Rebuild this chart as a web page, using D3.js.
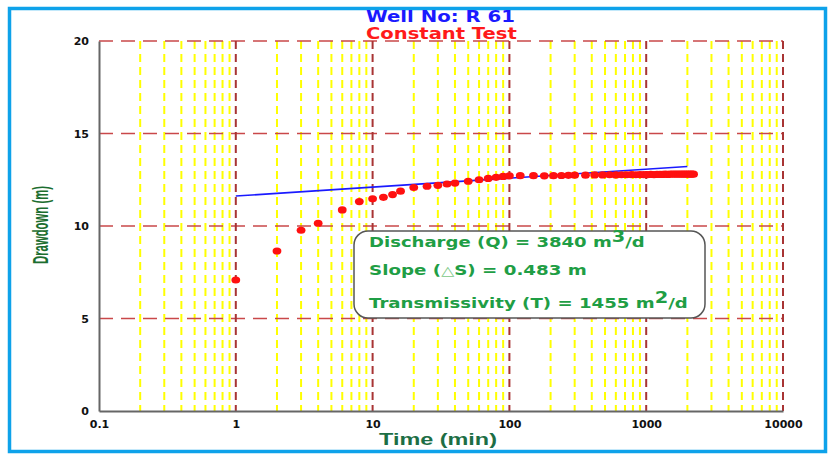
<!DOCTYPE html>
<html>
<head>
<meta charset="utf-8">
<script src="https://cdn.jsdelivr.net/npm/d3@7"></script>
<style>
  html, body { margin: 0; padding: 0; background: #fff; }
  svg { display: block; }
</style>
</head>
<body>
<svg id="chart" width="830" height="455"></svg>
<script>
// Constant-rate pumping test, well R 61: elapsed time (min) and drawdown (m)
const timeMin = [
  1, 2, 3, 4, 6, 8, 10, 12, 14, 16, 20, 25, 30, 35, 40, 50, 60, 70, 80, 90,
  100, 120, 150, 180, 210, 240, 270, 300, 360, 420, 480, 540, 600, 660, 720,
  780, 840, 900, 960, 1020, 1080, 1140, 1200, 1260, 1320, 1380, 1440, 1500,
  1560, 1620, 1680, 1740, 1800, 1860, 1920, 1980, 2040, 2100, 2160, 2220
];
const drawdownM = [
  7.08, 8.65, 9.77, 10.15, 10.87, 11.32, 11.47, 11.55, 11.70, 11.88, 12.08,
  12.15, 12.20, 12.27, 12.32, 12.42, 12.50, 12.57, 12.63, 12.68,
  12.71, 12.72, 12.72, 12.71, 12.72, 12.73, 12.74, 12.75, 12.75, 12.76, 12.76,
  12.77, 12.76, 12.77, 12.77, 12.78, 12.77, 12.78, 12.78, 12.78, 12.79, 12.78,
  12.79, 12.79, 12.79, 12.80, 12.79, 12.80, 12.80, 12.80, 12.80, 12.80, 12.80,
  12.80, 12.80, 12.80, 12.80, 12.80, 12.80, 12.80
];

// Straight-line (Cooper-Jacob) fit
const fitTimes = [1, 2000];
const fitInterceptM = 11.62;   // drawdown on the fitted line at t = 1 min
const fitSlopeM = 0.483;       // drawdown per log cycle

const xTickValues = [0.1, 1, 10, 100, 1000, 10000];
const xTickLabels = ["0.1", "1", "10", "100", "1000", "10000"];
const yTickValues = [0, 5, 10, 15, 20];
const yTickLabels = ["0", "5", "10", "15", "20"];

const titleText = "Well No: R 61";
const subtitleText = "Constant Test";
const xAxisTitle = "Time (min)";
const yAxisTitle = "Drawdown (m)";

// Result box lines; "sup" parts are raised, "sym" parts are the light triangle
const infoLines = [
  [{ t: "Discharge (Q) = 3840 m" }, { t: "3", sup: true }, { t: "/d" }],
  [{ t: "Slope (" }, { t: "\u25B3", sym: true }, { t: "S) = 0.483 m" }],
  [{ t: "Transmissivity (T) = 1455 m" }, { t: "2", sup: true }, { t: "/d" }]
];

const svg = d3.select("#chart");
const plot = { left: 99, right: 783, top: 41, bottom: 411 };

const x = d3.scaleLog().domain([0.1, 10000]).range([plot.left, plot.right]);
const y = d3.scaleLinear().domain([0, 20]).range([plot.bottom, plot.top]);

// outer frame
svg.append("rect")
  .attr("x", 9.5).attr("y", 8.5)
  .attr("width", 816).attr("height", 443)
  .attr("fill", "none")
  .attr("stroke", "#0ea2ea")
  .attr("stroke-width", 3.5);

// grid
const grid = svg.append("g");
const minorTicks = x.ticks().filter(v => !xTickValues.includes(v) && v > 0.1 && v < 10000);
grid.selectAll("line.minor").data(minorTicks).join("line")
  .attr("class", "minor")
  .attr("x1", d => x(d)).attr("x2", d => x(d))
  .attr("y1", plot.top).attr("y2", plot.bottom)
  .attr("stroke", "#ffff00").attr("stroke-width", 2)
  .attr("stroke-dasharray", "8,5");

grid.selectAll("line.hmajor").data(yTickValues.filter(v => v > 0)).join("line")
  .attr("class", "hmajor")
  .attr("x1", plot.left).attr("x2", plot.right)
  .attr("y1", d => y(d)).attr("y2", d => y(d))
  .attr("stroke", "#c9484a").attr("stroke-width", 1.6)
  .attr("stroke-dasharray", "14,8");

grid.selectAll("line.vmajor").data(xTickValues.filter(v => v > 0.1)).join("line")
  .attr("class", "vmajor")
  .attr("x1", d => x(d)).attr("x2", d => x(d))
  .attr("y1", plot.top).attr("y2", plot.bottom)
  .attr("stroke", "#a83434").attr("stroke-width", 2)
  .attr("stroke-dasharray", "8,5");

// axes
const xAxis = d3.axisBottom(x)
  .tickValues(xTickValues)
  .tickFormat((d, i) => xTickLabels[i])
  .tickSize(0).tickPadding(9);
const yAxis = d3.axisLeft(y)
  .tickValues(yTickValues)
  .tickFormat((d, i) => yTickLabels[i])
  .tickSize(0).tickPadding(10);

function styleAxis(g) {
  g.select(".domain").attr("stroke", "#666").attr("stroke-width", 2);
  g.selectAll("text")
    .attr("font-family", "DejaVu Sans, Verdana, sans-serif")
    .attr("font-weight", "bold")
    .attr("font-size", 11)
    .attr("fill", "#111");
}
svg.append("g").attr("transform", `translate(0,${plot.bottom})`).call(xAxis).call(styleAxis);
svg.append("g").attr("transform", `translate(${plot.left},0)`).call(yAxis).call(styleAxis);

// fitted straight line
const fitLine = d3.line().x(d => x(d)).y(d => y(fitInterceptM + fitSlopeM * Math.log10(d)));
svg.append("path").datum(fitTimes)
  .attr("d", fitLine)
  .attr("fill", "none")
  .attr("stroke", "#1a1aff")
  .attr("stroke-width", 1.6);

// observed drawdown
svg.append("g").selectAll("ellipse")
  .data(timeMin.map((t, i) => ({ t, s: drawdownM[i] })))
  .join("ellipse")
  .attr("cx", d => x(d.t)).attr("cy", d => y(d.s))
  .attr("rx", 4.4).attr("ry", 3.6)
  .attr("fill", "#ff1010");

// stretch a text group horizontally so it spans [x0, x1]
function fitWidth(g, x0, x1, baseline) {
  const w = g.node().getBBox().width;
  g.attr("transform", `translate(${x0},${baseline}) scale(${(x1 - x0) / w},1)`);
}

// result box
svg.append("rect")
  .attr("x", 354).attr("y", 231)
  .attr("width", 351).attr("height", 87)
  .attr("rx", 14).attr("ry", 14)
  .attr("fill", "#fff")
  .attr("stroke", "#555")
  .attr("stroke-width", 1.5);

const infoBaselines = [247, 275, 308];
const infoRight = [645, 587, 688];
infoLines.forEach((parts, i) => {
  const g = svg.append("g");
  const txt = g.append("text")
    .attr("x", 0).attr("y", 0)
    .attr("font-family", "DejaVu Sans, Verdana, sans-serif")
    .attr("font-weight", "bold")
    .attr("font-size", 14)
    .attr("fill", "#1f9e45");
  parts.forEach((p, j) => {
    const ts = txt.append("tspan").text(p.t);
    if (p.sup) ts.attr("dy", -5).attr("font-size", 15);
    if (p.sym) ts.attr("fill", "#7cc886").attr("font-weight", "normal").attr("font-size", 13);
    if (j > 0 && parts[j - 1].sup) ts.attr("dy", 5);
  });
  fitWidth(g, 369, infoRight[i], infoBaselines[i]);
});

// titles
function addTitle(text, color, size, x0, x1, baseline, family, weight) {
  const g = svg.append("g");
  g.append("text").text(text)
    .attr("font-family", family).attr("font-weight", weight)
    .attr("font-size", size).attr("fill", color);
  fitWidth(g, x0, x1, baseline);
  return g;
}
addTitle(titleText, "#1a1aff", 15, 366, 515, 22, "DejaVu Sans, Verdana, sans-serif", "bold");
addTitle(subtitleText, "#ff1a1a", 15, 366, 517, 39, "DejaVu Sans, Verdana, sans-serif", "bold");
addTitle(xAxisTitle, "#1c6e45", 17, 379, 497, 445, "Liberation Sans, Arial, sans-serif", "bold");

// y axis title (rotated), glyphs drawn large and squeezed along the text
const yt = svg.append("g");
const ytText = yt.append("text").text(yAxisTitle)
  .attr("font-family", "Liberation Sans, Arial, sans-serif")
  .attr("font-size", 22)
  .attr("font-weight", "bold")
  .attr("fill", "#1c6e30")
  .attr("text-anchor", "middle");
const ytw = ytText.node().getBBox().width;
yt.attr("transform", `translate(48,225) rotate(-90) scale(${78 / ytw},1)`);
</script>
</body>
</html>
